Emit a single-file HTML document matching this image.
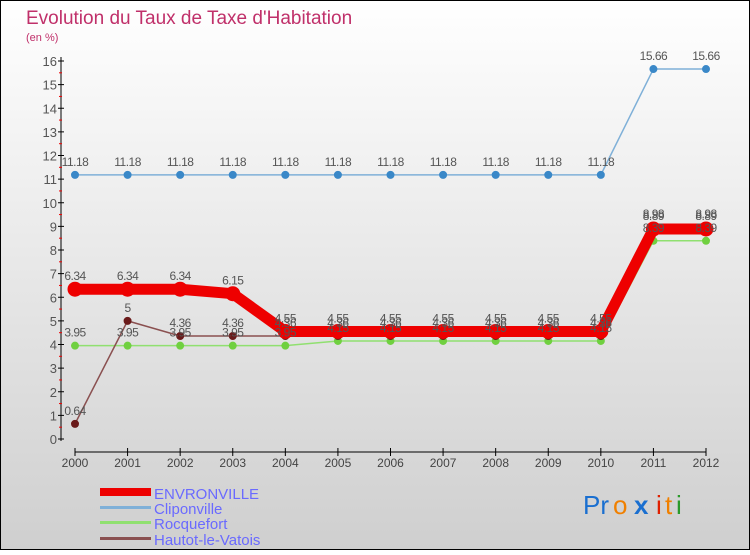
<!DOCTYPE html>
<html><head><meta charset="utf-8"><style>
html,body{margin:0;padding:0;}
body{width:750px;height:550px;overflow:hidden;font-family:"Liberation Sans",sans-serif;}
svg text{font-family:"Liberation Sans",sans-serif;}
</style></head><body>
<svg id="chart" width="750" height="550" xmlns="http://www.w3.org/2000/svg">
<defs><linearGradient id="bg" x1="0" y1="0" x2="0" y2="1"><stop offset="0" stop-color="#ffffff"/><stop offset="1" stop-color="#cfcfcf"/></linearGradient></defs>
<rect x="0.5" y="0.5" width="749" height="549" fill="url(#bg)" stroke="#000"/>
<text x="26" y="24" font-size="19" fill="#c0306a">Evolution du Taux de Taxe d'Habitation</text>
<text x="26" y="41" font-size="11" fill="#c0306a">(en %)</text>
<g id="axes"></g><g id="series"></g><g id="labels"></g>
<g>
<rect x="100" y="488" width="51" height="8" fill="#e00"/>
<rect x="100" y="506" width="51" height="3" fill="#7fb0d8"/>
<rect x="100" y="521" width="51" height="3" fill="#90e070"/>
<rect x="100" y="537" width="51" height="3" fill="#8a5050"/>
<text x="154" y="499" font-size="15" fill="#6a6aff">ENVRONVILLE</text>
<text x="154" y="514" font-size="15" fill="#6a6aff">Cliponville</text>
<text x="154" y="529" font-size="15" fill="#6a6aff">Rocquefort</text>
<text x="154" y="545" font-size="15" fill="#6a6aff">Hautot-le-Vatois</text>
</g>
<g font-size="26">
<text x="583" y="514" fill="#1a6fd0">Pr</text><text x="613" y="514" fill="#f08000">o</text><text x="634" y="514" fill="#1a6fd0" font-weight="bold">x</text><text x="656" y="514" fill="#e02000">i</text><text x="665" y="514" fill="#f08000">t</text><text x="676" y="514" fill="#2a9a2a">i</text>
</g>
</svg>
<script>
const years=[2000,2001,2002,2003,2004,2005,2006,2007,2008,2009,2010,2011,2012];
const yTicks=[0,1,2,3,4,5,6,7,8,9,10,11,12,13,14,15,16];
const envronville=[6.34,6.34,6.34,6.15,4.55,4.55,4.55,4.55,4.55,4.55,4.55,8.89,8.89];
const cliponville=[11.18,11.18,11.18,11.18,11.18,11.18,11.18,11.18,11.18,11.18,11.18,15.66,15.66];
const rocquefort=[3.95,3.95,3.95,3.95,3.95,4.15,4.15,4.15,4.15,4.15,4.15,8.39,8.39];
const hautot=[0.64,5,4.36,4.36,4.36,4.36,4.36,4.36,4.36,4.36,4.36,8.98,8.98];
const NS="http://www.w3.org/2000/svg";
const X=i=>75+i*(706-75)/(years.length-1);
const Y=v=>439-v*(439-61)/16;
function mk(t,a,p){const e=document.createElementNS(NS,t);for(const k in a)e.setAttribute(k,a[k]);p.appendChild(e);return e;}
const axes=document.getElementById('axes');
mk('line',{x1:61,y1:57,x2:61,y2:441,stroke:'#000'},axes);
mk('line',{x1:75,y1:452,x2:706,y2:452,stroke:'#000'},axes);
yTicks.forEach(v=>{
 mk('line',{x1:58,y1:Y(v),x2:64,y2:Y(v),stroke:'#000'},axes);
 if(v<16)mk('line',{x1:59,y1:Y(v+0.5),x2:62,y2:Y(v+0.5),stroke:'#e00'},axes);
 const t=mk('text',{x:57,y:Y(v)+5,'font-size':13,'text-anchor':'end',fill:'#555'},axes);
 
 
 t.textContent=v;
});
years.forEach((yr,i)=>{
 mk('line',{x1:X(i),y1:448,x2:X(i),y2:456,stroke:'#000'},axes);
 const t=mk('text',{x:X(i),y:467,'font-size':12,'text-anchor':'middle',fill:'#444'},axes);
 
 
 t.textContent=yr;
});
const series=document.getElementById('series'),labels=document.getElementById('labels');
function draw(name,vals,color,w,r,dot){
 const pts=vals.map((v,i)=>X(i)+','+Y(v)).join(' ');
 const pl=mk('polyline',{points:pts,fill:'none',stroke:color,'stroke-width':w,'stroke-linejoin':'round'},series);
 
 
 vals.forEach((v,i)=>{
  const c=mk('circle',{cx:X(i),cy:Y(v),r:r,fill:dot},series);
  
  
  const t=mk('text',{x:X(i),y:Y(v)-9,'font-size':12,'text-anchor':'middle',fill:'#555','letter-spacing':'-0.5'},labels);
  
  
  t.textContent=v;
 });
}
draw('rocquefort',rocquefort,'#90e070',1.5,4,'#70d040');
draw('hautot',hautot,'#8a5050',1.5,4,'#6a1a1a');
draw('cliponville',cliponville,'#7fb0d8',1.5,4,'#3a88c8');
draw('envronville',envronville,'#e00',11,7.5,'#e00');
</script>
</body></html>
